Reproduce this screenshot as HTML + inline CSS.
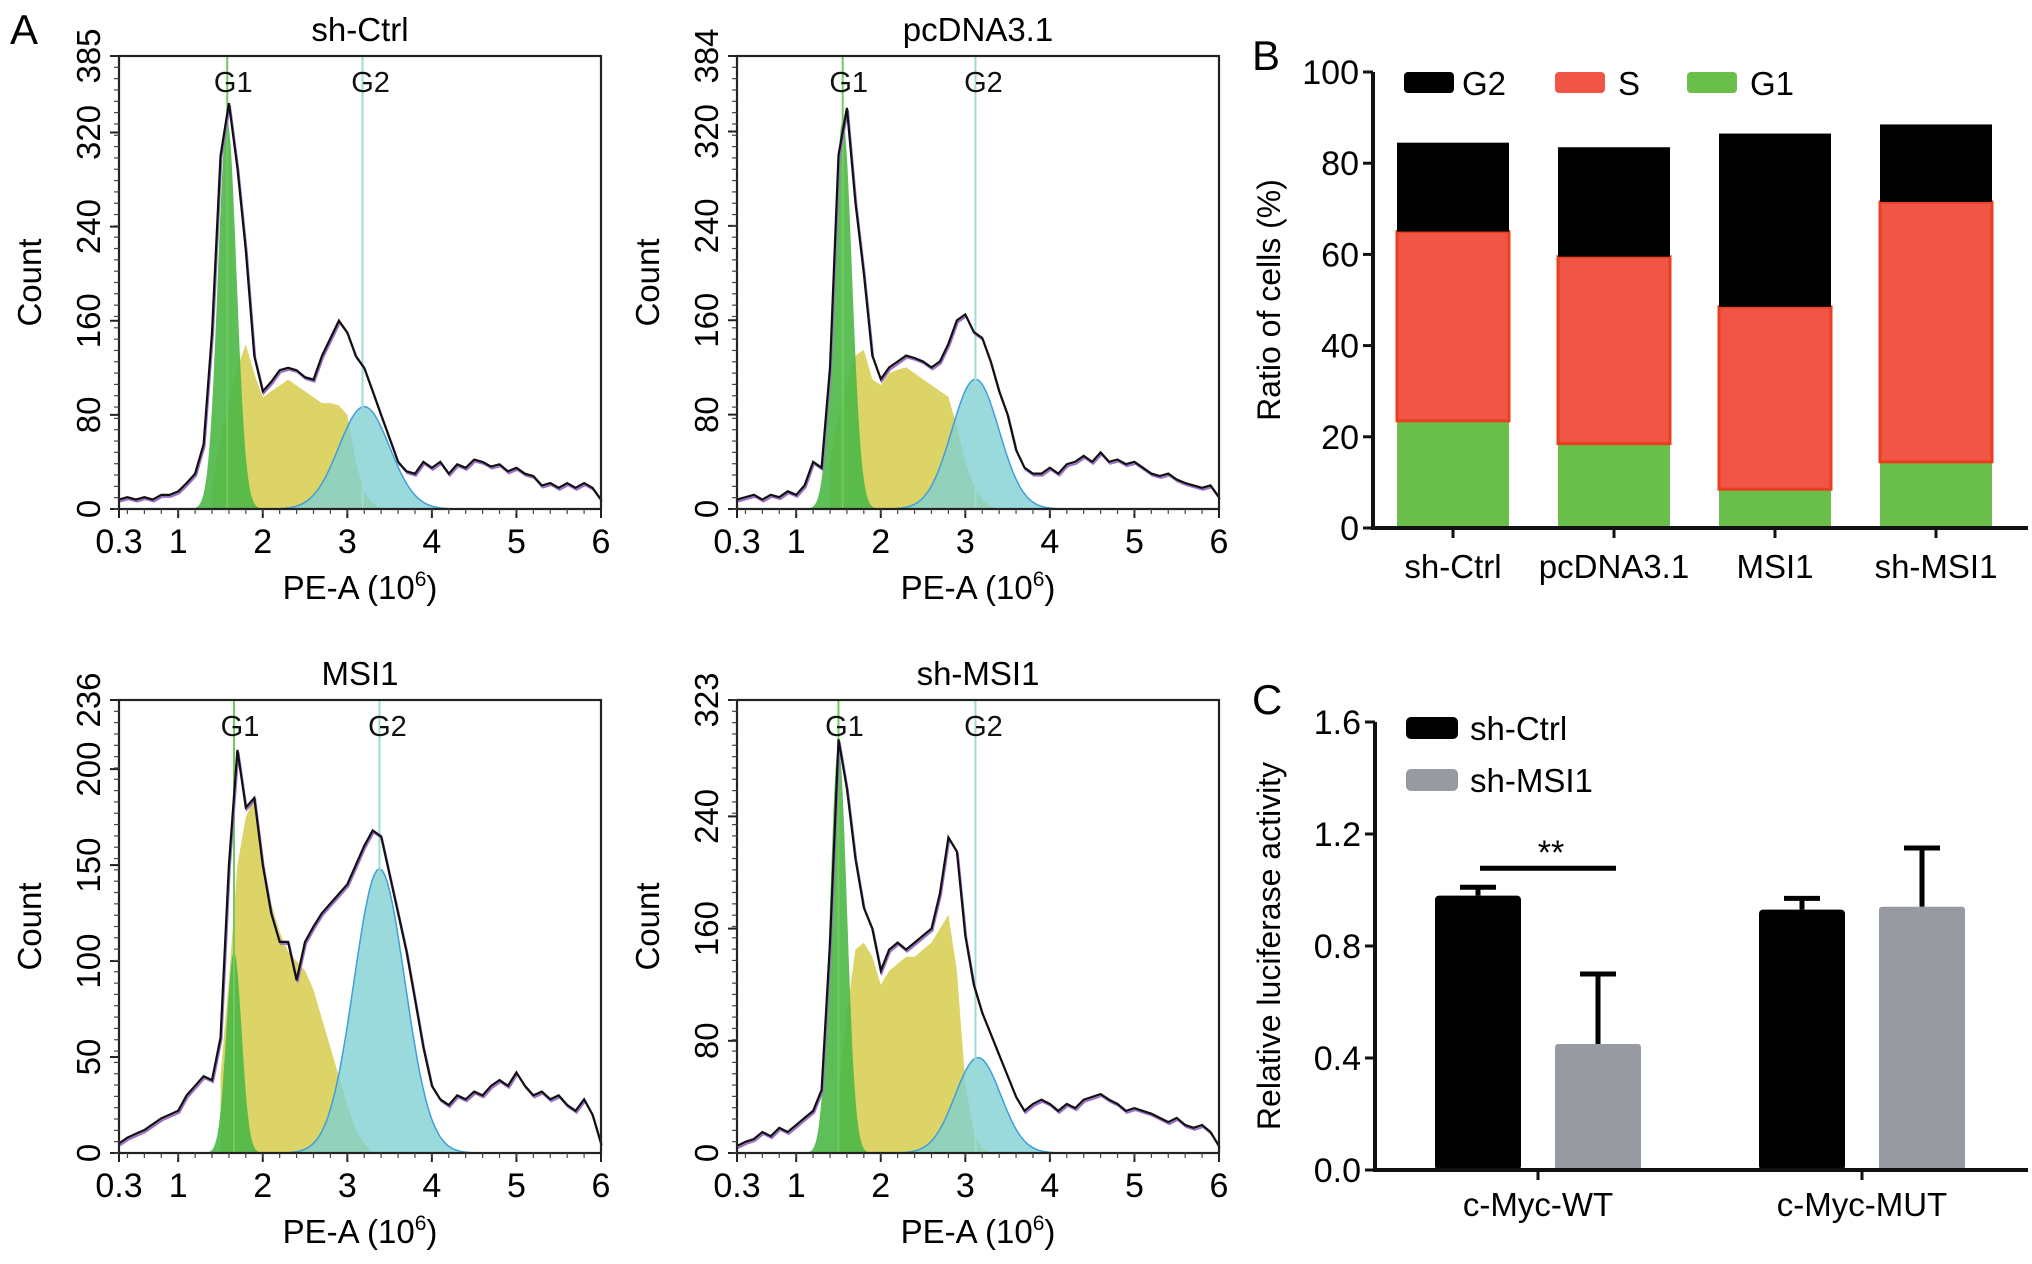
<!DOCTYPE html>
<html><head><meta charset="utf-8">
<style>
html,body{margin:0;padding:0;background:#fff;}
svg{display:block;font-family:"Liberation Sans",Arial,sans-serif;}
</style></head>
<body>
<svg id="fig" width="2032" height="1264" viewBox="0 0 2032 1264" xmlns="http://www.w3.org/2000/svg"></svg>
<script>
// ===== Panel A data (x grid 0.3..6.0 step 0.1) =====
const histTitles = ["sh-Ctrl","pcDNA3.1","MSI1","sh-MSI1"];
const histYMax = [385,384,236,323];
const histYTicks = [[0,80,160,240,320,385],[0,80,160,240,320,384],[0,50,100,150,200,236],[0,80,160,240,323]];
const histXTicks = [0.3,1,2,3,4,5,6];
const countA1 = [8,10,8,10,8,12,12,15,22,30,55,150,300,345,290,220,130,100,108,118,120,118,112,110,130,145,160,150,130,120,100,80,60,40,32,30,40,35,40,30,38,35,42,40,36,38,32,35,30,28,20,22,18,22,18,22,18,8];
const countA2 = [8,10,12,8,12,10,15,12,20,40,35,120,300,340,260,200,130,110,120,125,130,128,125,120,125,140,160,165,150,145,125,100,80,50,35,30,30,35,30,38,40,45,40,48,40,42,38,40,35,30,28,30,25,22,20,18,20,10];
const countA3 = [5,8,10,12,15,18,20,22,30,35,40,38,60,150,210,180,185,150,125,110,110,90,110,118,125,130,135,140,150,160,168,165,145,125,105,80,55,35,28,25,30,28,32,30,35,38,35,42,35,30,32,28,30,25,22,28,20,5];
const countA4 = [5,8,10,15,12,18,15,20,25,30,45,150,295,260,210,175,160,130,145,150,145,150,155,160,185,225,215,155,120,100,85,70,55,40,30,35,38,35,30,35,32,38,40,42,38,35,30,32,30,28,25,22,25,20,18,20,15,5];
const counts = [countA1,countA2,countA3,countA4];
// S-phase fitted area: start x and values (step 0.1)
const sStart = [1.4,1.4,1.5,1.5];
const sA1 = [20,60,90,120,140,115,95,100,105,110,105,100,95,90,90,88,80,40,15,5,0];
const sA2 = [40,80,110,130,135,110,105,115,118,120,115,110,105,100,95,70,40,20,8,2,0];
const sA3 = [40,90,150,175,185,150,130,115,105,100,95,85,70,55,40,25,12,5,0];
const sA4 = [40,100,145,150,140,120,130,135,140,140,145,150,160,170,130,50,15,3,0];
const sVals = [sA1,sA2,sA3,sA4];
// G1 / G2 fitted peaks: [center, height, sigma]
const g1Fit = [[1.58,330,0.11],[1.55,330,0.11],[1.66,105,0.09],[1.5,290,0.1]];
const g2Fit = [[3.2,87,0.3],[3.12,110,0.28],[3.38,148,0.3],[3.15,68,0.27]];
const g1Line = [1.58,1.55,1.66,1.5];
const g2Line = [3.18,3.12,3.38,3.12];

// ===== Panel B data =====
const bCats = ["sh-Ctrl","pcDNA3.1","MSI1","sh-MSI1"];
const bG1 = [23.5,18.5,8.5,14.5];
const bS = [41.5,41,40,57];
const bG2 = [19.5,24,38,17];
const bTicks = [0,20,40,60,80,100];

// ===== Panel C data =====
const cCats = ["c-Myc-WT","c-Myc-MUT"];
const cCtrl = [0.98,0.93];
const cCtrlErr = [0.03,0.04];
const cMSI = [0.45,0.94];
const cMSIErr = [0.25,0.21];
const cTicks = [0,0.4,0.8,1.2,1.6];

const NS="http://www.w3.org/2000/svg";
const svg=document.getElementById('fig');
function el(tag,attrs,parent,text){const e=document.createElementNS(NS,tag);for(const k in attrs)e.setAttribute(k,attrs[k]);if(text!==undefined)e.textContent=text;(parent||svg).appendChild(e);return e;}

let t;
t=el('text',{x:10,y:44,'font-size':42},svg,'A');


t=el('text',{x:1252,y:70,'font-size':42},svg,'B');


t=el('text',{x:1252,y:714,'font-size':42},svg,'C');



// ===== Histograms =====
const origins=[[119,56],[737,56],[119,700],[737,700]];
const PW=482, PH=453;
for(let p=0;p<4;p++){
  const [L,T]=origins[p]; const R=L+PW, B=T+PH;
  const g=el('g',{});
  
  
  const X=v=>L+(v-0.3)/(5.7)*PW;
  const Y=v=>B-v/histYMax[p]*PH;
  let d='M'+X(sStart[p])+','+B;
  sVals[p].forEach((v,i)=>{d+=' L'+X(sStart[p]+i*0.1).toFixed(1)+','+Y(v).toFixed(1);});
  d+=' L'+X(sStart[p]+(sVals[p].length-1)*0.1)+','+B+'Z';
  let s=el('path',{d:d,fill:'#dcd466',stroke:'none'},g);
  
  
  function gauss(f,fill,op,name,stroke){
    let dd='M'+X(f[0]-4*f[2])+','+B;
    for(let k=-40;k<=40;k++){const xv=f[0]+k*f[2]/10;dd+=' L'+X(xv).toFixed(1)+','+Y(f[1]*Math.exp(-0.5*(k/10)*(k/10))).toFixed(1);}
    dd+=' L'+X(f[0]+4*f[2])+','+B+'Z';
    const e=el('path',{d:dd,fill:fill,'fill-opacity':op,stroke:stroke||'none','stroke-width':1.5},g);
    
    
  }
  gauss(g1Fit[p],'#4cb847',0.9,'g1-fit-area');
  gauss(g2Fit[p],'#7ecfd4',0.78,'g2-fit-area','#3f9fd8');
  let l=el('line',{x1:X(g1Line[p]),x2:X(g1Line[p]),y1:T,y2:B,stroke:'#6fcb5e','stroke-width':2},g);
  
  
  l=el('line',{x1:X(g2Line[p]),x2:X(g2Line[p]),y1:T,y2:B,stroke:'#9edbd3','stroke-width':2},g);
  
  
  let cd='';
  counts[p].forEach((v,i)=>{cd+=(i?' L':'M')+X(0.3+i*0.1).toFixed(1)+','+Y(v).toFixed(1);});
  let c2=el('path',{d:cd,fill:'none',stroke:'#9a6fc8','stroke-width':2,transform:'translate(1,2)'},g);
  
  
  let c=el('path',{d:cd,fill:'none',stroke:'#111','stroke-width':2.2},g);
  
  
  let fr=el('rect',{x:L,y:T,width:PW,height:PH,fill:'none',stroke:'#222','stroke-width':2.2},g);
  
  
  let gl=el('text',{x:X(g1Line[p])+6,y:T+36,'font-size':29,'text-anchor':'middle',fill:'#111'},g,'G1');
  
  
  gl=el('text',{x:X(g2Line[p])+8,y:T+36,'font-size':29,'text-anchor':'middle',fill:'#111'},g,'G2');
  
  
  let ti=el('text',{x:(L+R)/2,y:T-15,'font-size':33,'text-anchor':'middle'},g,histTitles[p]);
  
  
  histXTicks.forEach(v=>{
    const tk=el('line',{x1:X(v),x2:X(v),y1:B,y2:B+9,stroke:'#222','stroke-width':2},g);
    
    
    const tl=el('text',{x:X(v),y:B+44,'font-size':34,'text-anchor':'middle'},g,String(v));
    
    
  });
  for(let k=0.4;k<6;k+=0.2){el('line',{x1:X(k),x2:X(k),y1:B,y2:B+5,stroke:'#444','stroke-width':1.2},g);}
  histYTicks[p].forEach(v=>{
    const tk=el('line',{x1:L-9,x2:L,y1:Y(v),y2:Y(v),stroke:'#222','stroke-width':2},g);
    
    
    const tl=el('text',{x:0,y:0,'font-size':33,'text-anchor':'middle',transform:`translate(${L-19},${Y(v)}) rotate(-90)`},g,String(v));
    
    
  });
  for(let k=0;k<histYMax[p];k+=histYMax[p]/40){el('line',{x1:L-5,x2:L,y1:Y(k),y2:Y(k),stroke:'#444','stroke-width':1.2},g);}
  const xl=el('text',{x:(L+R)/2,y:B+90,'font-size':33,'text-anchor':'middle'},g);
  
  
  el('tspan',{},xl,'PE-A (10');
  el('tspan',{'font-size':21,dy:-13},xl,'6');
  el('tspan',{dy:13},xl,')');
  const yl=el('text',{x:0,y:0,'font-size':33,'text-anchor':'middle',transform:`translate(${L-78},${(T+B)/2}) rotate(-90)`},g,'Count');
  
  
}

// ===== Panel B =====
(function(){
  const g=el('g',{});
  
  
  const L=1373, B=528, T=72, R=2028;
  const Y=v=>B-v/100*(B-T);
  const cx=i=>1453+i*161; const bw=112;
  bCats.forEach((c,i)=>{
    const parts=[[0,bG1[i],'#6abf4b','none','g1'],[bG1[i],bS[i],'#f05545','#e8401f','s'],[bG1[i]+bS[i],bG2[i],'#000','none','g2']];
    parts.forEach(([b0,h,f,st,nm])=>{
      const r=el('rect',{x:cx(i)-bw/2,y:Y(b0+h),width:bw,height:Y(b0)-Y(b0+h),fill:f,stroke:st,'stroke-width':3},g);
      
      
    });
    const tk=el('line',{x1:cx(i),x2:cx(i),y1:B,y2:B+10,stroke:'#111','stroke-width':3},g);
    
    
    const tl=el('text',{x:cx(i),y:B+50,'font-size':33,'text-anchor':'middle'},g,c);
    
    
  });
  let a=el('line',{x1:L,x2:L,y1:T,y2:B+2,stroke:'#111','stroke-width':4},g);
  
  
  a=el('line',{x1:L-2,x2:R,y1:B,y2:B,stroke:'#111','stroke-width':4},g);
  
  
  bTicks.forEach(v=>{
    const tk=el('line',{x1:L-10,x2:L,y1:Y(v),y2:Y(v),stroke:'#111','stroke-width':3},g);
    
    
    const tl=el('text',{x:L-14,y:Y(v)+12,'font-size':34,'text-anchor':'end'},g,String(v));
    
    
  });
  const yl=el('text',{x:0,y:0,'font-size':32,'text-anchor':'middle',transform:`translate(1280,300) rotate(-90)`},g,'Ratio of cells (%)');
  
  
  const leg=[['G2','#000',1404,1462],['S','#f05545',1555,1618],['G1','#6abf4b',1687,1750]];
  leg.forEach(([n,c,x,tx])=>{
    const r=el('rect',{x:x,y:72,width:50,height:21,rx:4,fill:c},g);
    
    
    const tt=el('text',{x:tx,y:95,'font-size':33},g,n);
    
    
  });
})();

// ===== Panel C =====
(function(){
  const g=el('g',{});
  
  
  const L=1375, B=1170, T=722, R=2028;
  const Y=v=>B-v/1.6*(B-T);
  const groupC=[1538,1862]; const bw=86; const off=60;
  cCats.forEach((c,i)=>{
    const x1=groupC[i]-off, x2=groupC[i]+off;
    [[x1,cCtrl[i],cCtrlErr[i]],[x2,cMSI[i],cMSIErr[i]]].forEach(([x,v,e])=>{
      const eb=el('line',{x1:x,x2:x,y1:Y(v),y2:Y(v+e),stroke:'#000','stroke-width':5},g);
      
      
      const cap=el('line',{x1:x-18,x2:x+18,y1:Y(v+e),y2:Y(v+e),stroke:'#000','stroke-width':5},g);
      
      
    });
    let r=el('rect',{x:x1-bw/2,y:Y(cCtrl[i]),width:bw,height:B-Y(cCtrl[i]),rx:4,fill:'#000'},g);
    
    
    r=el('rect',{x:x2-bw/2,y:Y(cMSI[i]),width:bw,height:B-Y(cMSI[i]),rx:3,fill:'#979aa1'},g);
    
    
    const tk=el('line',{x1:groupC[i],x2:groupC[i],y1:B,y2:B+10,stroke:'#111','stroke-width':3},g);
    
    
    const tl=el('text',{x:groupC[i],y:B+46,'font-size':33,'text-anchor':'middle'},g,c);
    
    
  });
  const sy=Y(cCtrl[0]+cCtrlErr[0])-19;
  let sl=el('line',{x1:groupC[0]-58,x2:groupC[0]+78,y1:sy,y2:sy,stroke:'#000','stroke-width':5},g);
  
  
  sl=el('text',{x:groupC[0]+13,y:sy-4,'font-size':34,'text-anchor':'middle'},g,'**');
  
  
  let a=el('line',{x1:L,x2:L,y1:T,y2:B+2,stroke:'#111','stroke-width':4},g);
  
  
  a=el('line',{x1:L-2,x2:R,y1:B,y2:B,stroke:'#111','stroke-width':4},g);
  
  
  cTicks.forEach(v=>{
    const tk=el('line',{x1:L-10,x2:L,y1:Y(v),y2:Y(v),stroke:'#111','stroke-width':3},g);
    
    
    const tl=el('text',{x:L-14,y:Y(v)+12,'font-size':34,'text-anchor':'end'},g,v.toFixed(1));
    
    
  });
  const yl=el('text',{x:0,y:0,'font-size':32,'text-anchor':'middle',transform:`translate(1280,946) rotate(-90)`},g,'Relative luciferase activity');
  
  
  [['sh-Ctrl','#000',717],['sh-MSI1','#979aa1',769]].forEach(([n,c,y])=>{
    const r=el('rect',{x:1406,y:y,width:52,height:22,rx:5,fill:c},g);
    
    
    const tt=el('text',{x:1470,y:y+23,'font-size':33},g,n);
    
    
  });
})();
</script>
</body></html>
